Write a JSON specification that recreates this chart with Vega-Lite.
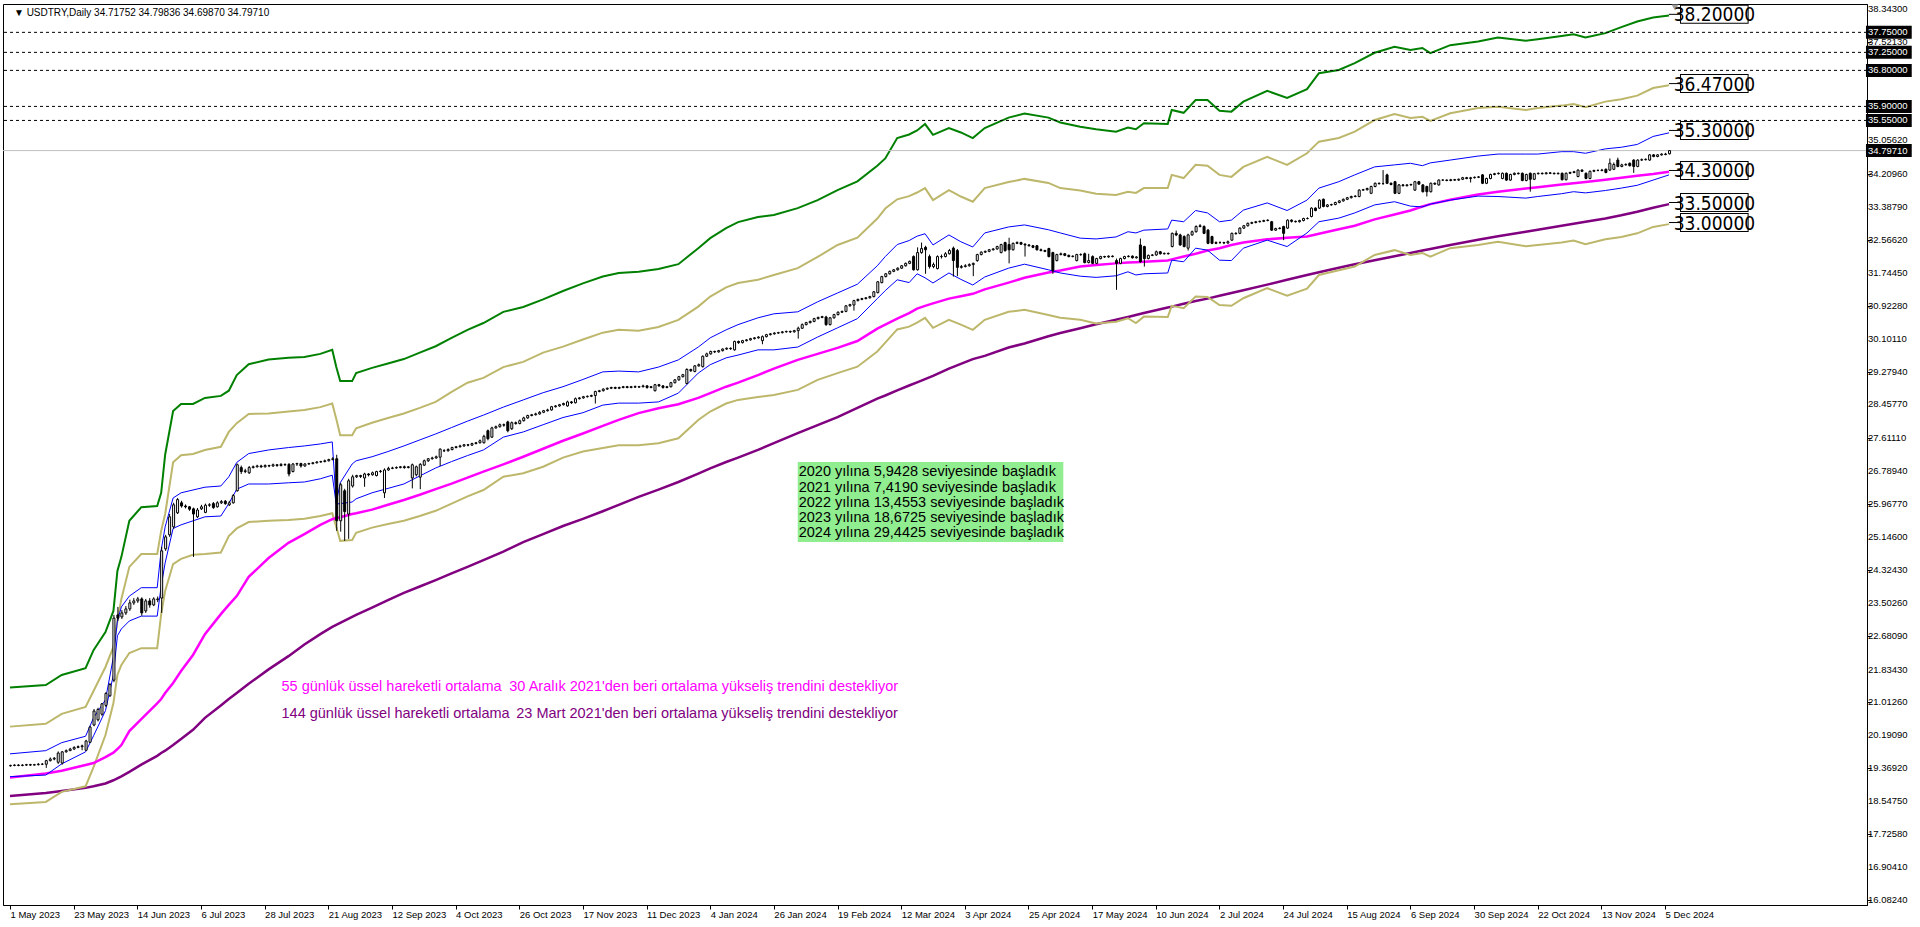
{
"$schema": "https://vega.github.io/schema/vega-lite/v6.json",
"autosize": "none",
"width": 1864,
"height": 901,
"padding": {"left": 3, "top": 4, "right": 53, "bottom": 22},
"background": "white",
"config": {"view": {"stroke": "black", "strokeWidth": 1}, "font": "Liberation Sans", "axis": {"grid": false, "labelOverlap": false}},
"datasets": {
"one": [{}],
"yticks": [{"v":38.343},{"v":37.5213},{"v":36.6993},{"v":35.8779},{"v":35.0562},{"v":34.2096},{"v":33.3879},{"v":32.5662},{"v":31.7445},{"v":30.9228},{"v":30.1011},{"v":29.2794},{"v":28.4577},{"v":27.6111},{"v":26.7894},{"v":25.9677},{"v":25.146},{"v":24.3243},{"v":23.5026},{"v":22.6809},{"v":21.8343},{"v":21.0126},{"v":20.1909},{"v":19.3692},{"v":18.5475},{"v":17.7258},{"v":16.9041},{"v":16.0824}],
"bands": [
{"i":0,"g":21.39,"tu":20.41,"bu":19.73,"bl":19.16,"tl":18.47,"m":19.14,"p":18.68},
{"i":9,"g":21.45,"tu":20.48,"bu":19.81,"bl":19.20,"tl":18.53,"m":19.24,"p":18.75},
{"i":13,"g":21.70,"tu":20.73,"bu":20.01,"bl":19.48,"tl":18.78,"m":19.31,"p":18.80},
{"i":19,"g":21.87,"tu":20.90,"bu":20.17,"bl":19.78,"tl":18.92,"m":19.45,"p":18.88},
{"i":21,"g":22.32,"tu":21.30,"bu":20.63,"bl":20.18,"tl":19.40,"m":19.50,"p":18.92},
{"i":24,"g":22.77,"tu":21.90,"bu":21.08,"bl":20.81,"tl":20.20,"m":19.65,"p":18.99},
{"i":26,"g":23.30,"tu":22.40,"bu":22.15,"bl":21.70,"tl":21.00,"m":19.76,"p":19.07},
{"i":27,"g":24.30,"tu":23.05,"bu":23.05,"bl":22.68,"tl":21.70,"m":19.85,"p":19.12},
{"i":28,"g":24.65,"tu":23.60,"bu":23.40,"bl":22.85,"tl":21.95,"m":19.95,"p":19.17},
{"i":30,"g":25.55,"tu":24.40,"bu":23.67,"bl":23.05,"tl":22.25,"m":20.30,"p":19.28},
{"i":33,"g":25.89,"tu":24.72,"bu":23.88,"bl":23.17,"tl":22.37,"m":20.60,"p":19.46},
{"i":37,"g":25.92,"tu":24.72,"bu":23.88,"bl":23.17,"tl":22.37,"m":20.99,"p":19.68},
{"i":38,"g":26.25,"tu":25.30,"bu":24.82,"bl":23.92,"tl":23.22,"m":21.10,"p":19.75},
{"i":39,"g":27.20,"tu":25.72,"bu":25.40,"bl":24.50,"tl":23.80,"m":21.25,"p":19.81},
{"i":41,"g":28.29,"tu":27.01,"bu":26.12,"bl":25.36,"tl":24.47,"m":21.50,"p":19.95},
{"i":43,"g":28.47,"tu":27.19,"bu":26.25,"bl":25.45,"tl":24.60,"m":21.80,"p":20.10},
{"i":46,"g":28.47,"tu":27.22,"bu":26.32,"bl":25.55,"tl":24.70,"m":22.20,"p":20.33},
{"i":49,"g":28.62,"tu":27.32,"bu":26.39,"bl":25.65,"tl":24.72,"m":22.72,"p":20.63},
{"i":53,"g":28.67,"tu":27.40,"bu":26.42,"bl":25.67,"tl":24.76,"m":23.22,"p":20.94},
{"i":55,"g":28.80,"tu":27.77,"bu":26.65,"bl":25.98,"tl":25.17,"m":23.45,"p":21.10},
{"i":57,"g":29.19,"tu":27.99,"bu":27.01,"bl":26.34,"tl":25.36,"m":23.67,"p":21.25},
{"i":60,"g":29.46,"tu":28.22,"bu":27.23,"bl":26.47,"tl":25.52,"m":24.15,"p":21.48},
{"i":65,"g":29.58,"tu":28.23,"bu":27.32,"bl":26.47,"tl":25.55,"m":24.62,"p":21.84},
{"i":70,"g":29.62,"tu":28.28,"bu":27.38,"bl":26.50,"tl":25.57,"m":25.00,"p":22.17},
{"i":74,"g":29.64,"tu":28.32,"bu":27.42,"bl":26.52,"tl":25.60,"m":25.22,"p":22.46},
{"i":78,"g":29.72,"tu":28.39,"bu":27.47,"bl":26.60,"tl":25.67,"m":25.45,"p":22.72},
{"i":81,"g":29.82,"tu":28.48,"bu":27.52,"bl":26.69,"tl":25.74,"m":25.59,"p":22.90},
{"i":82,"g":29.40,"tu":28.10,"bu":26.00,"bl":25.97,"tl":25.40,"m":25.62,"p":22.95},
{"i":83,"g":29.04,"tu":27.69,"bu":26.50,"bl":25.98,"tl":25.05,"m":25.64,"p":23.00},
{"i":86,"g":29.04,"tu":27.69,"bu":26.97,"bl":26.02,"tl":25.07,"m":25.72,"p":23.15},
{"i":87,"g":29.24,"tu":27.86,"bu":27.05,"bl":26.10,"tl":25.25,"m":25.74,"p":23.20},
{"i":91,"g":29.37,"tu":28.00,"bu":27.15,"bl":26.25,"tl":25.38,"m":25.83,"p":23.38},
{"i":95,"g":29.48,"tu":28.12,"bu":27.28,"bl":26.36,"tl":25.47,"m":25.95,"p":23.57},
{"i":99,"g":29.59,"tu":28.23,"bu":27.42,"bl":26.47,"tl":25.55,"m":26.07,"p":23.75},
{"i":103,"g":29.75,"tu":28.37,"bu":27.57,"bl":26.67,"tl":25.67,"m":26.20,"p":23.91},
{"i":107,"g":29.91,"tu":28.52,"bu":27.72,"bl":26.87,"tl":25.80,"m":26.34,"p":24.07},
{"i":111,"g":30.12,"tu":28.77,"bu":27.88,"bl":27.03,"tl":25.98,"m":26.48,"p":24.24},
{"i":115,"g":30.32,"tu":29.00,"bu":28.04,"bl":27.18,"tl":26.16,"m":26.63,"p":24.40},
{"i":119,"g":30.49,"tu":29.12,"bu":28.19,"bl":27.32,"tl":26.32,"m":26.78,"p":24.57},
{"i":124,"g":30.77,"tu":29.39,"bu":28.39,"bl":27.64,"tl":26.65,"m":26.96,"p":24.78},
{"i":129,"g":30.89,"tu":29.52,"bu":28.57,"bl":27.77,"tl":26.74,"m":27.15,"p":25.02},
{"i":134,"g":31.08,"tu":29.75,"bu":28.75,"bl":27.95,"tl":26.90,"m":27.35,"p":25.22},
{"i":139,"g":31.29,"tu":29.90,"bu":28.90,"bl":28.13,"tl":27.13,"m":27.55,"p":25.42},
{"i":144,"g":31.48,"tu":30.08,"bu":29.08,"bl":28.25,"tl":27.28,"m":27.73,"p":25.60},
{"i":149,"g":31.65,"tu":30.25,"bu":29.27,"bl":28.44,"tl":27.37,"m":27.92,"p":25.79},
{"i":153,"g":31.74,"tu":30.32,"bu":29.29,"bl":28.49,"tl":27.44,"m":28.07,"p":25.95},
{"i":158,"g":31.77,"tu":30.30,"bu":29.27,"bl":28.49,"tl":27.44,"m":28.24,"p":26.15},
{"i":163,"g":31.84,"tu":30.39,"bu":29.39,"bl":28.52,"tl":27.49,"m":28.36,"p":26.33},
{"i":168,"g":31.96,"tu":30.57,"bu":29.57,"bl":28.74,"tl":27.61,"m":28.46,"p":26.52},
{"i":173,"g":32.36,"tu":30.90,"bu":29.89,"bl":29.24,"tl":28.07,"m":28.62,"p":26.73},
{"i":176,"g":32.61,"tu":31.15,"bu":30.12,"bl":29.45,"tl":28.28,"m":28.74,"p":26.86},
{"i":180,"g":32.86,"tu":31.38,"bu":30.32,"bl":29.62,"tl":28.48,"m":28.90,"p":27.02},
{"i":183,"g":33.01,"tu":31.49,"bu":30.45,"bl":29.69,"tl":28.57,"m":29.00,"p":27.13},
{"i":188,"g":33.14,"tu":31.57,"bu":30.62,"bl":29.82,"tl":28.64,"m":29.19,"p":27.32},
{"i":192,"g":33.19,"tu":31.69,"bu":30.72,"bl":29.82,"tl":28.69,"m":29.35,"p":27.49},
{"i":198,"g":33.36,"tu":31.86,"bu":30.77,"bl":29.89,"tl":28.82,"m":29.57,"p":27.74},
{"i":203,"g":33.56,"tu":32.14,"bu":31.02,"bl":30.14,"tl":29.07,"m":29.72,"p":27.94},
{"i":208,"g":33.81,"tu":32.44,"bu":31.24,"bl":30.37,"tl":29.24,"m":29.87,"p":28.14},
{"i":213,"g":34.03,"tu":32.62,"bu":31.46,"bl":30.60,"tl":29.40,"m":30.04,"p":28.37},
{"i":218,"g":34.42,"tu":33.10,"bu":31.92,"bl":31.10,"tl":29.78,"m":30.35,"p":28.60},
{"i":220,"g":34.60,"tu":33.35,"bu":32.15,"bl":31.30,"tl":30.00,"m":30.45,"p":28.68},
{"i":223,"g":35.11,"tu":33.58,"bu":32.45,"bl":31.57,"tl":30.33,"m":30.60,"p":28.81},
{"i":226,"g":35.20,"tu":33.66,"bu":32.55,"bl":31.50,"tl":30.40,"m":30.74,"p":28.93},
{"i":228,"g":35.30,"tu":33.75,"bu":32.66,"bl":31.72,"tl":30.50,"m":30.85,"p":29.01},
{"i":230,"g":35.46,"tu":33.86,"bu":32.72,"bl":31.62,"tl":30.62,"m":30.92,"p":29.09},
{"i":232,"g":35.19,"tu":33.56,"bu":32.44,"bl":31.49,"tl":30.37,"m":30.98,"p":29.17},
{"i":236,"g":35.36,"tu":33.81,"bu":32.69,"bl":31.74,"tl":30.57,"m":31.10,"p":29.35},
{"i":239,"g":35.25,"tu":33.65,"bu":32.52,"bl":31.58,"tl":30.45,"m":31.16,"p":29.47},
{"i":242,"g":35.11,"tu":33.52,"bu":32.39,"bl":31.44,"tl":30.32,"m":31.22,"p":29.59},
{"i":245,"g":35.36,"tu":33.86,"bu":32.74,"bl":31.64,"tl":30.57,"m":31.33,"p":29.67},
{"i":251,"g":35.62,"tu":34.01,"bu":32.89,"bl":31.86,"tl":30.77,"m":31.50,"p":29.88},
{"i":255,"g":35.72,"tu":34.09,"bu":32.94,"bl":31.96,"tl":30.82,"m":31.62,"p":29.98},
{"i":261,"g":35.62,"tu":33.99,"bu":32.82,"bl":31.82,"tl":30.69,"m":31.75,"p":30.16},
{"i":264,"g":35.50,"tu":33.86,"bu":32.74,"bl":31.74,"tl":30.62,"m":31.80,"p":30.24},
{"i":269,"g":35.39,"tu":33.80,"bu":32.61,"bl":31.66,"tl":30.57,"m":31.90,"p":30.36},
{"i":273,"g":35.33,"tu":33.72,"bu":32.59,"bl":31.63,"tl":30.48,"m":31.94,"p":30.46},
{"i":278,"g":35.27,"tu":33.69,"bu":32.64,"bl":31.67,"tl":30.52,"m":31.98,"p":30.57},
{"i":281,"g":35.37,"tu":33.77,"bu":32.77,"bl":31.77,"tl":30.61,"m":32.00,"p":30.64},
{"i":283,"g":35.33,"tu":33.74,"bu":32.74,"bl":31.69,"tl":30.49,"m":32.01,"p":30.69},
{"i":285,"g":35.48,"tu":33.86,"bu":32.81,"bl":31.72,"tl":30.65,"m":32.02,"p":30.74},
{"i":291,"g":35.46,"tu":33.86,"bu":32.84,"bl":31.74,"tl":30.64,"m":32.05,"p":30.88},
{"i":292,"g":35.81,"tu":34.19,"bu":33.06,"bl":32.06,"tl":30.92,"m":32.08,"p":30.90},
{"i":295,"g":35.74,"tu":34.11,"bu":33.02,"bl":32.02,"tl":30.86,"m":32.15,"p":30.97},
{"i":298,"g":36.06,"tu":34.44,"bu":33.30,"bl":32.36,"tl":31.15,"m":32.22,"p":31.04},
{"i":301,"g":36.06,"tu":34.42,"bu":33.24,"bl":32.31,"tl":31.14,"m":32.30,"p":31.10},
{"i":304,"g":35.79,"tu":34.19,"bu":33.02,"bl":32.06,"tl":30.94,"m":32.36,"p":31.17},
{"i":307,"g":35.77,"tu":34.14,"bu":33.06,"bl":32.05,"tl":30.92,"m":32.44,"p":31.24},
{"i":310,"g":36.02,"tu":34.39,"bu":33.31,"bl":32.36,"tl":31.11,"m":32.50,"p":31.31},
{"i":316,"g":36.29,"tu":34.64,"bu":33.49,"bl":32.56,"tl":31.36,"m":32.58,"p":31.45},
{"i":321,"g":36.11,"tu":34.44,"bu":33.30,"bl":32.40,"tl":31.17,"m":32.62,"p":31.57},
{"i":326,"g":36.33,"tu":34.73,"bu":33.56,"bl":32.74,"tl":31.35,"m":32.65,"p":31.69},
{"i":329,"g":36.73,"tu":35.02,"bu":33.86,"bl":33.02,"tl":31.69,"m":32.72,"p":31.76},
{"i":334,"g":36.81,"tu":35.11,"bu":34.02,"bl":33.11,"tl":31.81,"m":32.83,"p":31.87},
{"i":338,"g":36.98,"tu":35.27,"bu":34.19,"bl":33.24,"tl":31.90,"m":32.92,"p":31.96},
{"i":343,"g":37.24,"tu":35.56,"bu":34.39,"bl":33.44,"tl":32.19,"m":33.08,"p":32.06},
{"i":348,"g":37.39,"tu":35.71,"bu":34.44,"bl":33.52,"tl":32.31,"m":33.20,"p":32.16},
{"i":352,"g":37.31,"tu":35.61,"bu":34.48,"bl":33.41,"tl":32.19,"m":33.30,"p":32.24},
{"i":355,"g":37.36,"tu":35.64,"bu":34.42,"bl":33.39,"tl":32.24,"m":33.40,"p":32.30},
{"i":357,"g":37.23,"tu":35.54,"bu":34.49,"bl":33.46,"tl":32.15,"m":33.46,"p":32.34},
{"i":362,"g":37.43,"tu":35.73,"bu":34.56,"bl":33.56,"tl":32.36,"m":33.57,"p":32.44},
{"i":369,"g":37.52,"tu":35.86,"bu":34.66,"bl":33.66,"tl":32.44,"m":33.70,"p":32.57},
{"i":374,"g":37.62,"tu":35.89,"bu":34.71,"bl":33.65,"tl":32.52,"m":33.77,"p":32.66},
{"i":381,"g":37.54,"tu":35.81,"bu":34.71,"bl":33.61,"tl":32.41,"m":33.85,"p":32.77},
{"i":384,"g":37.58,"tu":35.86,"bu":34.71,"bl":33.65,"tl":32.44,"m":33.88,"p":32.82},
{"i":390,"g":37.66,"tu":35.92,"bu":34.77,"bl":33.72,"tl":32.50,"m":33.95,"p":32.92},
{"i":393,"g":37.70,"tu":35.96,"bu":34.77,"bl":33.77,"tl":32.55,"m":33.98,"p":32.97},
{"i":396,"g":37.62,"tu":35.88,"bu":34.73,"bl":33.74,"tl":32.46,"m":34.01,"p":33.02},
{"i":401,"g":37.73,"tu":36.02,"bu":34.84,"bl":33.80,"tl":32.58,"m":34.07,"p":33.10},
{"i":405,"g":37.88,"tu":36.08,"bu":34.88,"bl":33.86,"tl":32.64,"m":34.12,"p":33.18},
{"i":409,"g":38.02,"tu":36.17,"bu":34.95,"bl":33.93,"tl":32.73,"m":34.17,"p":33.27},
{"i":413,"g":38.12,"tu":36.36,"bu":35.15,"bl":34.06,"tl":32.89,"m":34.21,"p":33.37},
{"i":417,"g":38.17,"tu":36.43,"bu":35.24,"bl":34.19,"tl":32.96,"m":34.27,"p":33.46}
],
"candles": [
{"i":0,"o":19.43,"h":19.46,"l":19.41,"c":19.44},{"i":1,"o":19.44,"h":19.47,"l":19.42,"c":19.45},{"i":2,"o":19.45,"h":19.47,"l":19.42,"c":19.44},{"i":3,"o":19.44,"h":19.47,"l":19.42,"c":19.45},{"i":4,"o":19.45,"h":19.48,"l":19.43,"c":19.46},
{"i":5,"o":19.46,"h":19.48,"l":19.43,"c":19.45},{"i":6,"o":19.45,"h":19.48,"l":19.44,"c":19.46},{"i":7,"o":19.46,"h":19.5,"l":19.44,"c":19.47},{"i":8,"o":19.47,"h":19.5,"l":19.45,"c":19.47},{"i":9,"o":19.47,"h":19.58,"l":19.38,"c":19.56},
{"i":10,"o":19.56,"h":19.64,"l":19.54,"c":19.6},{"i":11,"o":19.6,"h":19.65,"l":19.57,"c":19.62},{"i":12,"o":19.52,"h":19.79,"l":19.48,"c":19.75},{"i":13,"o":19.5,"h":19.8,"l":19.46,"c":19.78},{"i":14,"o":19.78,"h":19.84,"l":19.76,"c":19.81},
{"i":15,"o":19.81,"h":19.88,"l":19.8,"c":19.85},{"i":16,"o":19.85,"h":19.92,"l":19.83,"c":19.89},{"i":17,"o":19.89,"h":19.94,"l":19.87,"c":19.91},{"i":18,"o":19.91,"h":19.96,"l":19.82,"c":19.93},{"i":19,"o":19.82,"h":20.08,"l":19.8,"c":20.05},
{"i":20,"o":20.02,"h":20.43,"l":20.0,"c":20.4},{"i":21,"o":20.45,"h":20.85,"l":20.42,"c":20.8},{"i":22,"o":20.58,"h":20.88,"l":20.54,"c":20.84},{"i":23,"o":20.72,"h":21.0,"l":20.68,"c":20.98},{"i":24,"o":20.94,"h":21.27,"l":20.9,"c":21.24},
{"i":25,"o":21.18,"h":21.5,"l":21.15,"c":21.46},{"i":26,"o":21.57,"h":23.2,"l":21.52,"c":23.12},{"i":27,"o":23.2,"h":23.4,"l":23.05,"c":23.12},{"i":28,"o":23.15,"h":23.32,"l":23.1,"c":23.25},{"i":29,"o":23.25,"h":23.42,"l":23.2,"c":23.35},
{"i":30,"o":23.35,"h":23.58,"l":23.3,"c":23.5},{"i":31,"o":23.5,"h":23.62,"l":23.45,"c":23.55},{"i":32,"o":23.55,"h":23.65,"l":23.5,"c":23.6},{"i":33,"o":23.6,"h":23.64,"l":23.18,"c":23.25},{"i":34,"o":23.3,"h":23.6,"l":23.25,"c":23.55},
{"i":35,"o":23.55,"h":23.62,"l":23.38,"c":23.45},{"i":36,"o":23.45,"h":23.64,"l":23.42,"c":23.6},{"i":37,"o":23.58,"h":23.66,"l":23.52,"c":23.6},{"i":38,"o":23.62,"h":24.9,"l":23.25,"c":24.8},{"i":39,"o":24.85,"h":25.2,"l":24.8,"c":25.15},
{"i":40,"o":25.2,"h":25.72,"l":25.15,"c":25.65},{"i":41,"o":25.4,"h":26.0,"l":25.35,"c":25.95},{"i":42,"o":25.75,"h":26.12,"l":25.72,"c":26.08},{"i":43,"o":26.0,"h":26.05,"l":25.88,"c":25.92},{"i":44,"o":25.92,"h":25.96,"l":25.86,"c":25.9},
{"i":45,"o":25.9,"h":25.92,"l":25.8,"c":25.84},{"i":46,"o":25.85,"h":25.88,"l":24.65,"c":25.72},{"i":47,"o":25.65,"h":25.87,"l":25.62,"c":25.82},{"i":48,"o":25.85,"h":25.95,"l":25.82,"c":25.9},{"i":49,"o":25.76,"h":25.98,"l":25.74,"c":25.94},
{"i":50,"o":25.94,"h":25.99,"l":25.9,"c":25.95},{"i":51,"o":25.98,"h":26.02,"l":25.85,"c":25.88},{"i":52,"o":25.9,"h":26.04,"l":25.88,"c":26.0},{"i":53,"o":26.0,"h":26.07,"l":25.97,"c":26.03},{"i":54,"o":26.04,"h":26.07,"l":25.95,"c":25.98},
{"i":55,"o":25.95,"h":26.05,"l":25.92,"c":26.0},{"i":56,"o":26.0,"h":26.22,"l":25.98,"c":26.18},{"i":57,"o":26.3,"h":26.98,"l":26.28,"c":26.95},{"i":58,"o":26.88,"h":26.93,"l":26.72,"c":26.78},{"i":59,"o":26.78,"h":26.85,"l":26.74,"c":26.8},
{"i":60,"o":26.75,"h":26.92,"l":26.72,"c":26.88},{"i":61,"o":26.88,"h":26.93,"l":26.86,"c":26.9},{"i":62,"o":26.9,"h":26.95,"l":26.88,"c":26.92},{"i":63,"o":26.92,"h":26.95,"l":26.87,"c":26.9},{"i":64,"o":26.9,"h":26.96,"l":26.88,"c":26.93},
{"i":65,"o":26.93,"h":26.95,"l":26.89,"c":26.92},{"i":66,"o":26.92,"h":26.98,"l":26.9,"c":26.95},{"i":67,"o":26.95,"h":26.97,"l":26.9,"c":26.93},{"i":68,"o":26.93,"h":26.99,"l":26.91,"c":26.96},{"i":69,"o":26.96,"h":26.98,"l":26.92,"c":26.95},
{"i":70,"o":26.96,"h":26.99,"l":26.66,"c":26.72},{"i":71,"o":26.78,"h":26.99,"l":26.76,"c":26.97},{"i":72,"o":26.97,"h":27.0,"l":26.92,"c":26.98},{"i":73,"o":26.98,"h":27.0,"l":26.88,"c":26.92},{"i":74,"o":26.92,"h":26.99,"l":26.9,"c":26.97},
{"i":75,"o":26.97,"h":27.0,"l":26.95,"c":26.98},{"i":76,"o":26.98,"h":27.02,"l":26.96,"c":27.0},{"i":77,"o":27.0,"h":27.04,"l":26.98,"c":27.02},{"i":78,"o":27.02,"h":27.05,"l":27.0,"c":27.03},{"i":79,"o":27.03,"h":27.08,"l":27.01,"c":27.05},
{"i":80,"o":27.05,"h":27.1,"l":27.03,"c":27.08},{"i":81,"o":27.08,"h":27.14,"l":27.06,"c":27.1},{"i":82,"o":27.1,"h":27.2,"l":25.3,"c":25.55},{"i":83,"o":25.55,"h":26.5,"l":25.28,"c":26.45},{"i":84,"o":26.3,"h":26.35,"l":25.05,"c":25.78},
{"i":85,"o":25.72,"h":26.6,"l":25.1,"c":26.55},{"i":86,"o":26.42,"h":26.7,"l":26.38,"c":26.65},{"i":87,"o":26.65,"h":26.7,"l":26.62,"c":26.68},{"i":88,"o":26.68,"h":26.7,"l":26.62,"c":26.66},{"i":89,"o":26.62,"h":26.75,"l":26.4,"c":26.72},
{"i":90,"o":26.72,"h":26.74,"l":26.66,"c":26.7},{"i":91,"o":26.7,"h":26.78,"l":26.68,"c":26.75},{"i":92,"o":26.68,"h":26.8,"l":26.66,"c":26.78},{"i":93,"o":26.78,"h":26.82,"l":26.75,"c":26.79},{"i":94,"o":26.25,"h":26.86,"l":26.12,"c":26.82},
{"i":95,"o":26.82,"h":26.9,"l":26.8,"c":26.86},{"i":96,"o":26.86,"h":26.9,"l":26.84,"c":26.87},{"i":97,"o":26.87,"h":26.91,"l":26.85,"c":26.88},{"i":98,"o":26.88,"h":26.92,"l":26.86,"c":26.9},{"i":99,"o":26.9,"h":26.93,"l":26.85,"c":26.88},
{"i":100,"o":26.88,"h":26.92,"l":26.86,"c":26.9},{"i":101,"o":26.62,"h":26.98,"l":26.36,"c":26.95},{"i":102,"o":26.7,"h":26.93,"l":26.66,"c":26.9},{"i":103,"o":26.64,"h":26.99,"l":26.34,"c":26.96},{"i":104,"o":26.94,"h":27.08,"l":26.92,"c":27.05},
{"i":105,"o":27.05,"h":27.12,"l":27.02,"c":27.1},{"i":106,"o":27.1,"h":27.15,"l":27.08,"c":27.12},{"i":107,"o":27.12,"h":27.18,"l":27.1,"c":27.15},{"i":108,"o":27.14,"h":27.36,"l":26.92,"c":27.34},{"i":109,"o":27.3,"h":27.34,"l":27.27,"c":27.3},
{"i":110,"o":27.3,"h":27.36,"l":27.28,"c":27.33},{"i":111,"o":27.33,"h":27.4,"l":27.31,"c":27.38},{"i":112,"o":27.38,"h":27.42,"l":27.36,"c":27.4},{"i":113,"o":27.4,"h":27.45,"l":27.38,"c":27.42},{"i":114,"o":27.42,"h":27.47,"l":27.4,"c":27.45},
{"i":115,"o":27.45,"h":27.47,"l":27.41,"c":27.44},{"i":116,"o":27.44,"h":27.5,"l":27.42,"c":27.48},{"i":117,"o":27.48,"h":27.52,"l":27.46,"c":27.5},{"i":118,"o":27.5,"h":27.58,"l":27.48,"c":27.55},{"i":119,"o":27.5,"h":27.7,"l":27.48,"c":27.66},
{"i":120,"o":27.8,"h":27.83,"l":27.56,"c":27.6},{"i":121,"o":27.64,"h":27.9,"l":27.62,"c":27.87},{"i":122,"o":27.87,"h":27.93,"l":27.85,"c":27.9},{"i":123,"o":27.9,"h":27.98,"l":27.88,"c":27.95},{"i":124,"o":27.95,"h":27.98,"l":27.9,"c":27.94},
{"i":125,"o":28.02,"h":28.05,"l":27.76,"c":27.8},{"i":126,"o":27.85,"h":28.03,"l":27.82,"c":28.0},{"i":127,"o":28.0,"h":28.03,"l":27.95,"c":27.98},{"i":128,"o":27.98,"h":28.08,"l":27.96,"c":28.05},{"i":129,"o":28.05,"h":28.15,"l":28.03,"c":28.12},
{"i":130,"o":28.12,"h":28.2,"l":28.1,"c":28.18},{"i":131,"o":28.18,"h":28.22,"l":28.16,"c":28.2},{"i":132,"o":28.2,"h":28.25,"l":28.18,"c":28.22},{"i":133,"o":28.22,"h":28.29,"l":28.2,"c":28.26},{"i":134,"o":28.26,"h":28.32,"l":28.24,"c":28.3},
{"i":135,"o":28.3,"h":28.35,"l":28.28,"c":28.32},{"i":136,"o":28.32,"h":28.42,"l":28.3,"c":28.4},{"i":137,"o":28.4,"h":28.44,"l":28.38,"c":28.42},{"i":138,"o":28.42,"h":28.47,"l":28.4,"c":28.45},{"i":139,"o":28.45,"h":28.5,"l":28.43,"c":28.48},
{"i":140,"o":28.42,"h":28.55,"l":28.4,"c":28.52},{"i":141,"o":28.52,"h":28.54,"l":28.47,"c":28.5},{"i":142,"o":28.5,"h":28.63,"l":28.48,"c":28.6},{"i":143,"o":28.6,"h":28.64,"l":28.58,"c":28.62},{"i":144,"o":28.62,"h":28.67,"l":28.6,"c":28.65},
{"i":145,"o":28.65,"h":28.68,"l":28.63,"c":28.66},{"i":146,"o":28.66,"h":28.7,"l":28.64,"c":28.68},{"i":147,"o":28.68,"h":28.8,"l":28.48,"c":28.78},{"i":148,"o":28.78,"h":28.82,"l":28.76,"c":28.8},{"i":149,"o":28.8,"h":28.86,"l":28.78,"c":28.84},
{"i":150,"o":28.84,"h":28.88,"l":28.82,"c":28.86},{"i":151,"o":28.86,"h":28.9,"l":28.84,"c":28.88},{"i":152,"o":28.88,"h":28.9,"l":28.84,"c":28.86},{"i":153,"o":28.86,"h":28.9,"l":28.84,"c":28.88},{"i":154,"o":28.88,"h":28.92,"l":28.86,"c":28.9},
{"i":155,"o":28.9,"h":28.92,"l":28.86,"c":28.88},{"i":156,"o":28.88,"h":28.92,"l":28.86,"c":28.9},{"i":157,"o":28.9,"h":28.93,"l":28.87,"c":28.89},{"i":158,"o":28.89,"h":28.92,"l":28.87,"c":28.9},{"i":159,"o":28.9,"h":28.95,"l":28.88,"c":28.92},
{"i":160,"o":28.92,"h":28.94,"l":28.85,"c":28.88},{"i":161,"o":28.88,"h":28.92,"l":28.86,"c":28.9},{"i":162,"o":28.8,"h":28.97,"l":28.78,"c":28.95},{"i":163,"o":28.95,"h":28.97,"l":28.9,"c":28.92},{"i":164,"o":28.92,"h":28.94,"l":28.85,"c":28.88},
{"i":165,"o":28.88,"h":28.92,"l":28.86,"c":28.9},{"i":166,"o":28.9,"h":29.02,"l":28.88,"c":29.0},{"i":167,"o":29.0,"h":29.09,"l":28.98,"c":29.07},{"i":168,"o":29.07,"h":29.17,"l":29.05,"c":29.15},{"i":169,"o":29.15,"h":29.22,"l":29.13,"c":29.2},
{"i":170,"o":28.98,"h":29.36,"l":28.96,"c":29.33},{"i":171,"o":29.33,"h":29.35,"l":29.27,"c":29.3},{"i":172,"o":29.28,"h":29.44,"l":29.26,"c":29.42},{"i":173,"o":29.42,"h":29.48,"l":29.4,"c":29.45},{"i":174,"o":29.4,"h":29.68,"l":29.38,"c":29.66},
{"i":175,"o":29.66,"h":29.75,"l":29.64,"c":29.72},{"i":176,"o":29.72,"h":29.8,"l":29.7,"c":29.78},{"i":177,"o":29.78,"h":29.8,"l":29.74,"c":29.77},{"i":178,"o":29.77,"h":29.82,"l":29.75,"c":29.8},{"i":179,"o":29.8,"h":29.86,"l":29.78,"c":29.84},
{"i":180,"o":29.84,"h":29.88,"l":29.82,"c":29.86},{"i":181,"o":29.86,"h":29.88,"l":29.82,"c":29.85},{"i":182,"o":29.82,"h":30.05,"l":29.8,"c":30.03},{"i":183,"o":30.03,"h":30.05,"l":29.97,"c":30.0},{"i":184,"o":30.0,"h":30.07,"l":29.98,"c":30.05},
{"i":185,"o":30.05,"h":30.09,"l":30.03,"c":30.07},{"i":186,"o":30.07,"h":30.12,"l":30.05,"c":30.1},{"i":187,"o":30.1,"h":30.14,"l":30.08,"c":30.12},{"i":188,"o":30.12,"h":30.16,"l":30.1,"c":30.14},{"i":189,"o":30.05,"h":30.18,"l":29.96,"c":30.15},
{"i":190,"o":30.15,"h":30.22,"l":30.13,"c":30.2},{"i":191,"o":30.2,"h":30.24,"l":30.18,"c":30.22},{"i":192,"o":30.22,"h":30.26,"l":30.2,"c":30.24},{"i":193,"o":30.24,"h":30.27,"l":30.22,"c":30.25},{"i":194,"o":30.25,"h":30.29,"l":30.23,"c":30.27},
{"i":195,"o":30.27,"h":30.3,"l":30.25,"c":30.28},{"i":196,"o":30.28,"h":30.3,"l":30.24,"c":30.27},{"i":197,"o":30.27,"h":30.32,"l":30.25,"c":30.3},{"i":198,"o":30.3,"h":30.4,"l":30.1,"c":30.36},{"i":199,"o":30.36,"h":30.48,"l":30.34,"c":30.45},
{"i":200,"o":30.45,"h":30.52,"l":30.43,"c":30.5},{"i":201,"o":30.5,"h":30.55,"l":30.48,"c":30.53},{"i":202,"o":30.53,"h":30.62,"l":30.51,"c":30.6},{"i":203,"o":30.6,"h":30.65,"l":30.58,"c":30.63},{"i":204,"o":30.63,"h":30.67,"l":30.61,"c":30.65},
{"i":205,"o":30.64,"h":30.67,"l":30.42,"c":30.45},{"i":206,"o":30.45,"h":30.64,"l":30.43,"c":30.62},{"i":207,"o":30.62,"h":30.72,"l":30.6,"c":30.7},{"i":208,"o":30.7,"h":30.78,"l":30.68,"c":30.76},{"i":209,"o":30.76,"h":30.8,"l":30.74,"c":30.78},
{"i":210,"o":30.78,"h":30.94,"l":30.76,"c":30.92},{"i":211,"o":30.92,"h":30.97,"l":30.9,"c":30.95},{"i":212,"o":30.94,"h":31.07,"l":30.8,"c":31.05},{"i":213,"o":31.05,"h":31.1,"l":31.03,"c":31.08},{"i":214,"o":31.08,"h":31.12,"l":31.06,"c":31.1},
{"i":215,"o":31.1,"h":31.14,"l":31.08,"c":31.12},{"i":216,"o":31.12,"h":31.17,"l":31.1,"c":31.15},{"i":217,"o":31.15,"h":31.29,"l":31.13,"c":31.27},{"i":218,"o":31.25,"h":31.54,"l":31.23,"c":31.52},{"i":219,"o":31.5,"h":31.67,"l":31.48,"c":31.65},
{"i":220,"o":31.65,"h":31.74,"l":31.63,"c":31.72},{"i":221,"o":31.72,"h":31.8,"l":31.7,"c":31.78},{"i":222,"o":31.78,"h":31.84,"l":31.76,"c":31.82},{"i":223,"o":31.82,"h":31.88,"l":31.8,"c":31.86},{"i":224,"o":31.86,"h":31.94,"l":31.84,"c":31.92},
{"i":225,"o":31.92,"h":32.0,"l":31.9,"c":31.98},{"i":226,"o":31.98,"h":32.05,"l":31.96,"c":32.03},{"i":227,"o":32.15,"h":32.18,"l":31.8,"c":31.82},{"i":228,"o":31.82,"h":32.38,"l":31.8,"c":32.25},{"i":229,"o":32.25,"h":32.5,"l":32.22,"c":32.35},
{"i":230,"o":32.38,"h":32.42,"l":31.72,"c":32.32},{"i":231,"o":32.15,"h":32.2,"l":31.85,"c":31.9},{"i":232,"o":31.9,"h":32.0,"l":31.86,"c":31.95},{"i":233,"o":31.85,"h":32.18,"l":31.83,"c":32.15},{"i":234,"o":32.15,"h":32.2,"l":32.1,"c":32.15},
{"i":235,"o":32.15,"h":32.26,"l":32.13,"c":32.22},{"i":236,"o":32.22,"h":32.34,"l":32.2,"c":32.3},{"i":237,"o":32.36,"h":32.4,"l":31.65,"c":32.05},{"i":238,"o":32.3,"h":32.34,"l":31.66,"c":31.88},{"i":239,"o":31.88,"h":31.94,"l":31.85,"c":31.9},
{"i":240,"o":31.9,"h":31.96,"l":31.88,"c":31.92},{"i":241,"o":31.92,"h":31.98,"l":31.9,"c":31.95},{"i":242,"o":31.95,"h":32.0,"l":31.66,"c":31.98},{"i":243,"o":32.05,"h":32.22,"l":32.02,"c":32.2},{"i":244,"o":32.2,"h":32.28,"l":32.18,"c":32.26},
{"i":245,"o":32.26,"h":32.3,"l":32.24,"c":32.28},{"i":246,"o":32.28,"h":32.34,"l":32.26,"c":32.32},{"i":247,"o":32.32,"h":32.36,"l":32.3,"c":32.34},{"i":248,"o":32.34,"h":32.42,"l":32.32,"c":32.4},{"i":249,"o":32.25,"h":32.47,"l":32.23,"c":32.45},
{"i":250,"o":32.5,"h":32.52,"l":32.27,"c":32.3},{"i":251,"o":32.45,"h":32.62,"l":31.98,"c":32.32},{"i":252,"o":32.32,"h":32.5,"l":32.3,"c":32.48},{"i":253,"o":32.48,"h":32.53,"l":32.46,"c":32.5},{"i":254,"o":32.5,"h":32.52,"l":32.44,"c":32.46},
{"i":255,"o":32.46,"h":32.48,"l":32.15,"c":32.44},{"i":256,"o":32.44,"h":32.46,"l":32.4,"c":32.42},{"i":257,"o":32.42,"h":32.44,"l":32.36,"c":32.38},{"i":258,"o":32.42,"h":32.44,"l":32.3,"c":32.32},{"i":259,"o":32.32,"h":32.35,"l":32.28,"c":32.3},
{"i":260,"o":32.3,"h":32.32,"l":32.26,"c":32.28},{"i":261,"o":32.35,"h":32.37,"l":32.13,"c":32.15},{"i":262,"o":32.25,"h":32.27,"l":31.72,"c":31.8},{"i":263,"o":32.05,"h":32.22,"l":32.03,"c":32.2},{"i":264,"o":32.2,"h":32.25,"l":32.18,"c":32.22},
{"i":265,"o":32.22,"h":32.24,"l":32.16,"c":32.18},{"i":266,"o":32.18,"h":32.2,"l":32.13,"c":32.15},{"i":267,"o":32.15,"h":32.18,"l":32.13,"c":32.16},{"i":268,"o":32.05,"h":32.22,"l":32.03,"c":32.2},{"i":269,"o":32.2,"h":32.23,"l":32.17,"c":32.2},
{"i":270,"o":32.22,"h":32.25,"l":31.98,"c":32.0},{"i":271,"o":32.0,"h":32.22,"l":31.98,"c":32.05},{"i":272,"o":32.15,"h":32.18,"l":31.96,"c":31.98},{"i":273,"o":31.98,"h":32.12,"l":31.96,"c":32.1},{"i":274,"o":32.1,"h":32.17,"l":32.08,"c":32.15},
{"i":275,"o":32.15,"h":32.17,"l":32.12,"c":32.14},{"i":276,"o":32.14,"h":32.18,"l":32.12,"c":32.16},{"i":277,"o":32.16,"h":32.18,"l":32.13,"c":32.15},{"i":278,"o":32.05,"h":32.1,"l":31.32,"c":31.98},{"i":279,"o":31.98,"h":32.12,"l":31.96,"c":32.1},
{"i":280,"o":32.1,"h":32.17,"l":32.08,"c":32.15},{"i":281,"o":32.15,"h":32.18,"l":32.13,"c":32.16},{"i":282,"o":32.16,"h":32.18,"l":32.1,"c":32.12},{"i":283,"o":32.12,"h":32.16,"l":32.1,"c":32.14},{"i":284,"o":32.44,"h":32.6,"l":32.0,"c":32.02},
{"i":285,"o":32.4,"h":32.42,"l":31.9,"c":32.1},{"i":286,"o":32.1,"h":32.2,"l":32.08,"c":32.18},{"i":287,"o":32.18,"h":32.21,"l":32.16,"c":32.19},{"i":288,"o":32.19,"h":32.3,"l":32.17,"c":32.27},{"i":289,"o":32.27,"h":32.29,"l":32.2,"c":32.22},
{"i":290,"o":32.22,"h":32.25,"l":32.2,"c":32.23},{"i":291,"o":32.23,"h":32.25,"l":32.2,"c":32.22},{"i":292,"o":32.4,"h":32.75,"l":32.38,"c":32.73},{"i":293,"o":32.73,"h":32.8,"l":32.66,"c":32.69},{"i":294,"o":32.69,"h":32.72,"l":32.42,"c":32.44},
{"i":295,"o":32.65,"h":32.68,"l":32.38,"c":32.4},{"i":296,"o":32.36,"h":32.72,"l":32.3,"c":32.69},{"i":297,"o":32.69,"h":32.8,"l":32.67,"c":32.77},{"i":298,"o":32.77,"h":32.93,"l":32.75,"c":32.9},{"i":299,"o":32.9,"h":32.96,"l":32.88,"c":32.92},
{"i":300,"o":32.9,"h":32.93,"l":32.71,"c":32.73},{"i":301,"o":32.81,"h":32.84,"l":32.46,"c":32.48},{"i":302,"o":32.65,"h":32.67,"l":32.46,"c":32.48},{"i":303,"o":32.48,"h":32.53,"l":32.46,"c":32.5},{"i":304,"o":32.5,"h":32.53,"l":32.47,"c":32.5},
{"i":305,"o":32.5,"h":32.52,"l":32.46,"c":32.49},{"i":306,"o":32.49,"h":32.55,"l":32.47,"c":32.52},{"i":307,"o":32.56,"h":32.75,"l":32.54,"c":32.73},{"i":308,"o":32.73,"h":32.76,"l":32.7,"c":32.72},{"i":309,"o":32.73,"h":32.88,"l":32.71,"c":32.86},
{"i":310,"o":32.86,"h":32.94,"l":32.84,"c":32.92},{"i":311,"o":32.92,"h":33.0,"l":32.9,"c":32.98},{"i":312,"o":32.98,"h":33.02,"l":32.96,"c":33.0},{"i":313,"o":33.0,"h":33.04,"l":32.98,"c":33.02},{"i":314,"o":33.02,"h":33.05,"l":33.0,"c":33.03},
{"i":315,"o":33.03,"h":33.07,"l":33.01,"c":33.05},{"i":316,"o":33.05,"h":33.08,"l":33.03,"c":33.06},{"i":317,"o":33.02,"h":33.04,"l":32.79,"c":32.81},{"i":318,"o":32.81,"h":32.87,"l":32.79,"c":32.85},{"i":319,"o":32.85,"h":32.88,"l":32.83,"c":32.86},
{"i":320,"o":32.9,"h":32.92,"l":32.56,"c":32.73},{"i":321,"o":32.86,"h":33.08,"l":32.84,"c":33.06},{"i":322,"o":33.06,"h":33.08,"l":33.0,"c":33.03},{"i":323,"o":33.03,"h":33.05,"l":33.0,"c":33.02},{"i":324,"o":33.02,"h":33.07,"l":33.0,"c":33.05},
{"i":325,"o":33.05,"h":33.12,"l":33.03,"c":33.1},{"i":326,"o":33.1,"h":33.13,"l":33.08,"c":33.1},{"i":327,"o":33.15,"h":33.38,"l":33.13,"c":33.36},{"i":328,"o":33.36,"h":33.38,"l":33.28,"c":33.3},{"i":329,"o":33.36,"h":33.58,"l":33.34,"c":33.56},
{"i":330,"o":33.58,"h":33.6,"l":33.38,"c":33.4},{"i":331,"o":33.4,"h":33.46,"l":33.38,"c":33.44},{"i":332,"o":33.44,"h":33.47,"l":33.42,"c":33.45},{"i":333,"o":33.45,"h":33.52,"l":33.43,"c":33.5},{"i":334,"o":33.5,"h":33.56,"l":33.48,"c":33.54},
{"i":335,"o":33.54,"h":33.6,"l":33.52,"c":33.58},{"i":336,"o":33.58,"h":33.64,"l":33.56,"c":33.62},{"i":337,"o":33.62,"h":33.67,"l":33.6,"c":33.65},{"i":338,"o":33.65,"h":33.68,"l":33.63,"c":33.66},{"i":339,"o":33.65,"h":33.83,"l":33.63,"c":33.81},
{"i":340,"o":33.81,"h":33.84,"l":33.79,"c":33.82},{"i":341,"o":33.82,"h":33.87,"l":33.8,"c":33.85},{"i":342,"o":33.73,"h":33.92,"l":33.71,"c":33.9},{"i":343,"o":33.9,"h":34.0,"l":33.88,"c":33.98},{"i":344,"o":33.98,"h":34.0,"l":33.95,"c":33.97},
{"i":345,"o":33.97,"h":34.31,"l":33.95,"c":33.97},{"i":346,"o":34.19,"h":34.22,"l":33.96,"c":33.98},{"i":347,"o":33.98,"h":34.0,"l":33.93,"c":33.95},{"i":348,"o":34.02,"h":34.04,"l":33.71,"c":33.73},{"i":349,"o":33.73,"h":33.96,"l":33.71,"c":33.94},
{"i":350,"o":33.94,"h":33.96,"l":33.9,"c":33.92},{"i":351,"o":33.92,"h":33.96,"l":33.9,"c":33.94},{"i":352,"o":33.94,"h":33.97,"l":33.92,"c":33.95},{"i":353,"o":33.81,"h":34.04,"l":33.79,"c":34.02},{"i":354,"o":34.02,"h":34.04,"l":33.94,"c":33.96},
{"i":355,"o":33.94,"h":33.96,"l":33.75,"c":33.77},{"i":356,"o":33.9,"h":33.92,"l":33.65,"c":33.77},{"i":357,"o":33.77,"h":34.0,"l":33.75,"c":33.98},{"i":358,"o":33.98,"h":34.0,"l":33.94,"c":33.96},{"i":359,"o":33.94,"h":34.08,"l":33.92,"c":34.06},
{"i":360,"o":34.06,"h":34.08,"l":34.04,"c":34.06},{"i":361,"o":34.06,"h":34.08,"l":34.03,"c":34.05},{"i":362,"o":34.05,"h":34.09,"l":34.03,"c":34.07},{"i":363,"o":34.07,"h":34.09,"l":34.04,"c":34.06},{"i":364,"o":34.06,"h":34.1,"l":34.04,"c":34.08},
{"i":365,"o":34.08,"h":34.14,"l":34.06,"c":34.12},{"i":366,"o":34.12,"h":34.14,"l":34.08,"c":34.1},{"i":367,"o":34.1,"h":34.14,"l":34.0,"c":34.12},{"i":368,"o":34.12,"h":34.15,"l":34.1,"c":34.13},{"i":369,"o":34.13,"h":34.16,"l":34.11,"c":34.14},
{"i":370,"o":34.19,"h":34.21,"l":33.96,"c":33.98},{"i":371,"o":33.98,"h":34.12,"l":33.96,"c":34.1},{"i":372,"o":34.1,"h":34.22,"l":34.08,"c":34.2},{"i":373,"o":34.2,"h":34.24,"l":34.18,"c":34.22},{"i":374,"o":34.22,"h":34.25,"l":34.2,"c":34.23},
{"i":375,"o":34.1,"h":34.25,"l":34.08,"c":34.23},{"i":376,"o":34.23,"h":34.25,"l":34.04,"c":34.06},{"i":377,"o":34.06,"h":34.22,"l":34.04,"c":34.2},{"i":378,"o":34.2,"h":34.25,"l":34.18,"c":34.23},{"i":379,"o":34.23,"h":34.25,"l":34.2,"c":34.22},
{"i":380,"o":34.23,"h":34.25,"l":34.03,"c":34.05},{"i":381,"o":34.05,"h":34.22,"l":34.03,"c":34.2},{"i":382,"o":34.23,"h":34.25,"l":33.77,"c":34.08},{"i":383,"o":34.08,"h":34.24,"l":34.06,"c":34.22},{"i":384,"o":34.22,"h":34.25,"l":34.2,"c":34.23},
{"i":385,"o":34.23,"h":34.25,"l":34.2,"c":34.22},{"i":386,"o":34.22,"h":34.26,"l":34.2,"c":34.24},{"i":387,"o":34.24,"h":34.26,"l":34.21,"c":34.23},{"i":388,"o":34.23,"h":34.25,"l":34.2,"c":34.22},{"i":389,"o":34.22,"h":34.25,"l":34.2,"c":34.23},
{"i":390,"o":34.23,"h":34.25,"l":34.05,"c":34.07},{"i":391,"o":34.07,"h":34.25,"l":34.05,"c":34.23},{"i":392,"o":34.23,"h":34.27,"l":34.21,"c":34.25},{"i":393,"o":34.25,"h":34.29,"l":34.23,"c":34.27},{"i":394,"o":34.15,"h":34.33,"l":34.13,"c":34.31},
{"i":395,"o":34.31,"h":34.33,"l":34.26,"c":34.28},{"i":396,"o":34.23,"h":34.25,"l":34.08,"c":34.1},{"i":397,"o":34.1,"h":34.3,"l":34.08,"c":34.28},{"i":398,"o":34.28,"h":34.32,"l":34.26,"c":34.3},{"i":399,"o":34.3,"h":34.33,"l":34.28,"c":34.3},
{"i":400,"o":34.3,"h":34.34,"l":34.28,"c":34.31},{"i":401,"o":34.33,"h":34.35,"l":34.23,"c":34.25},{"i":402,"o":34.31,"h":34.6,"l":34.29,"c":34.48},{"i":403,"o":34.33,"h":34.5,"l":34.31,"c":34.45},{"i":404,"o":34.56,"h":34.62,"l":34.38,"c":34.4},
{"i":405,"o":34.4,"h":34.47,"l":34.38,"c":34.44},{"i":406,"o":34.44,"h":34.48,"l":34.42,"c":34.45},{"i":407,"o":34.48,"h":34.5,"l":34.4,"c":34.42},{"i":408,"o":34.56,"h":34.58,"l":34.24,"c":34.4},{"i":409,"o":34.4,"h":34.58,"l":34.38,"c":34.56},
{"i":410,"o":34.56,"h":34.6,"l":34.54,"c":34.57},{"i":411,"o":34.57,"h":34.6,"l":34.55,"c":34.58},{"i":412,"o":34.56,"h":34.71,"l":34.54,"c":34.69},{"i":413,"o":34.69,"h":34.71,"l":34.63,"c":34.65},{"i":414,"o":34.65,"h":34.71,"l":34.63,"c":34.69},
{"i":415,"o":34.69,"h":34.73,"l":34.67,"c":34.71},{"i":416,"o":34.71,"h":34.74,"l":34.68,"c":34.7},{"i":417,"o":34.71752,"h":34.79836,"l":34.6987,"c":34.7971}
],
"levels": [{"v":37.75},{"v":37.25},{"v":36.8},{"v":35.9},{"v":35.55}],
"price": [{"v":34.7971}],
"axtags": [{"v":37.75,"t":"37.75000"},{"v":37.25,"t":"37.25000"},{"v":36.8,"t":"36.80000"},{"v":35.9,"t":"35.90000"},{"v":35.55,"t":"35.55000"},{"v":34.7971,"t":"34.79710"}],
"tags": [{"v":38.2,"t":"38.20000"},{"v":36.47,"t":"36.47000"},{"v":35.3,"t":"35.30000"},{"v":34.3,"t":"34.30000"},{"v":33.5,"t":"33.50000"},{"v":33.0,"t":"33.00000"}]
},
"layer": [
{"data": {"name": "bands"}, "mark": {"type": "line", "color": "#800080", "strokeWidth": 2.5},
 "encoding": {
  "x": {"field": "i", "type": "quantitative", "scale": {"domain": [-0.5, 465.5], "nice": false, "zero": false},
   "axis": {"orient": "bottom", "values": [0,16,32,48,64,80,96,112,128,144,160,176,192,208,224,240,256,272,288,304,320,336,352,368,384,400,416],
    "labelExpr": "['1 May 2023','23 May 2023','14 Jun 2023','6 Jul 2023','28 Jul 2023','21 Aug 2023','12 Sep 2023','4 Oct 2023','26 Oct 2023','17 Nov 2023','11 Dec 2023','4 Jan 2024','26 Jan 2024','19 Feb 2024','12 Mar 2024','3 Apr 2024','25 Apr 2024','17 May 2024','10 Jun 2024','2 Jul 2024','24 Jul 2024','15 Aug 2024','6 Sep 2024','30 Sep 2024','22 Oct 2024','13 Nov 2024','5 Dec 2024'][round(datum.value/16)]",
    "labelAlign": "left", "labelOffset": 0, "labelBaseline": "top", "tickSize": 4, "labelPadding": 0, "grid": false, "title": null,
    "domainColor": "black", "tickColor": "black", "labelColor": "black", "labelFontSize": 9.5, "labelFont": "Liberation Sans", "labelOverlap": false, "labelFlush": false, "labelBound": false, "zindex": 1}},
  "y": {"field": "p", "type": "quantitative", "scale": {"domain": [15.955, 38.458], "nice": false, "zero": false},
   "axis": {"orient": "right", "values": [38.343,37.5213,36.6993,35.8779,35.0562,34.2096,33.3879,32.5662,31.7445,30.9228,30.1011,29.2794,28.4577,27.6111,26.7894,25.9677,25.146,24.3243,23.5026,22.6809,21.8343,21.0126,20.1909,19.3692,18.5475,17.7258,16.9041,16.0824],
    "labels": false, "title": null, "grid": false, "tickSize": 4, "tickColor": "black", "domainColor": "black", "zindex": 0}}
 }},
{"data": {"name": "bands"}, "mark": {"type": "line", "color": "#BDB76B", "strokeWidth": 2},
 "encoding": {"x": {"field": "i", "type": "quantitative", "axis": {"title": null}}, "y": {"field": "tu", "type": "quantitative", "axis": {"title": null}}}},
{"data": {"name": "bands"}, "mark": {"type": "line", "color": "#BDB76B", "strokeWidth": 2},
 "encoding": {"x": {"field": "i", "type": "quantitative", "axis": {"title": null}}, "y": {"field": "tl", "type": "quantitative", "axis": {"title": null}}}},
{"data": {"name": "bands"}, "mark": {"type": "line", "color": "#008000", "strokeWidth": 2},
 "encoding": {"x": {"field": "i", "type": "quantitative", "axis": {"title": null}}, "y": {"field": "g", "type": "quantitative", "axis": {"title": null}}}},
{"data": {"name": "bands"}, "mark": {"type": "line", "color": "#FF00FF", "strokeWidth": 2.5},
 "encoding": {"x": {"field": "i", "type": "quantitative", "axis": {"title": null}}, "y": {"field": "m", "type": "quantitative", "axis": {"title": null}}}},
{"data": {"name": "bands"}, "mark": {"type": "line", "color": "#0000FF", "strokeWidth": 1},
 "encoding": {"x": {"field": "i", "type": "quantitative", "axis": {"title": null}}, "y": {"field": "bu", "type": "quantitative", "axis": {"title": null}}}},
{"data": {"name": "bands"}, "mark": {"type": "line", "color": "#0000FF", "strokeWidth": 1},
 "encoding": {"x": {"field": "i", "type": "quantitative", "axis": {"title": null}}, "y": {"field": "bl", "type": "quantitative", "axis": {"title": null}}}},
{"data": {"name": "levels"}, "mark": {"type": "rule", "color": "black", "strokeWidth": 1, "strokeDash": [3, 3]},
 "encoding": {"y": {"field": "v", "type": "quantitative", "axis": {"title": null}}}},
{"data": {"name": "price"}, "mark": {"type": "rule", "color": "#C0C0C0", "strokeWidth": 1},
 "encoding": {"y": {"field": "v", "type": "quantitative", "axis": {"title": null}}}},
{"data": {"name": "candles"}, "mark": {"type": "rule", "color": "black", "strokeWidth": 1, "xOffset": 0.5},
 "encoding": {"x": {"field": "i", "type": "quantitative", "axis": {"title": null}}, "y": {"field": "l", "type": "quantitative", "axis": {"title": null}}, "y2": {"field": "h"}}},
{"data": {"name": "candles"}, "mark": {"type": "bar", "size": 2, "stroke": "black", "strokeWidth": 1, "orient": "vertical", "xOffset": 0.5},
 "encoding": {"x": {"field": "i", "type": "quantitative", "axis": {"title": null}}, "y": {"field": "o", "type": "quantitative", "axis": {"title": null}}, "y2": {"field": "c"},
  "fill": {"condition": {"test": "datum.c >= datum.o", "value": "white"}, "value": "black"}}},
{"data": {"name": "one"}, "mark": {"type": "rect", "fill": "#90EE90"},
 "encoding": {"x": {"datum": 198, "type": "quantitative", "axis": {"title": null}}, "x2": {"datum": 264.75}, "y": {"datum": 27.02, "type": "quantitative", "axis": {"title": null}}, "y2": {"datum": 25.02}}},
{"data": {"name": "one"}, "mark": {"type": "text", "align": "left", "baseline": "middle", "fontSize": 14.5, "lineHeight": 15.25, "color": "black", "font": "Liberation Sans"},
 "encoding": {"x": {"datum": 198.25, "type": "quantitative", "axis": {"title": null}}, "y": {"datum": 26.76, "type": "quantitative", "axis": {"title": null}},
  "text": {"value": ["2020 yılına 5,9428 seviyesinde başladık", "2021 yılına 7,4190 seviyesinde başladık", "2022 yılına 13,4553 seviyesinde başladık", "2023 yılına 18,6725 seviyesinde başladık", "2024 yılına 29,4425 seviyesinde başladık"]}}},
{"data": {"name": "one"}, "mark": {"type": "text", "align": "left", "baseline": "middle", "fontSize": 14.5, "color": "#FF00FF", "font": "Liberation Sans"},
 "encoding": {"x": {"datum": 68.25, "type": "quantitative", "axis": {"title": null}}, "y": {"datum": 21.40, "type": "quantitative", "axis": {"title": null}}, "text": {"value": "55 günlük üssel hareketli ortalama"}}},
{"data": {"name": "one"}, "mark": {"type": "text", "align": "left", "baseline": "middle", "fontSize": 14.5, "color": "#FF00FF", "font": "Liberation Sans"},
 "encoding": {"x": {"datum": 125.5, "type": "quantitative", "axis": {"title": null}}, "y": {"datum": 21.40, "type": "quantitative", "axis": {"title": null}}, "text": {"value": "30 Aralık 2021'den beri ortalama yükseliş trendini destekliyor"}}},
{"data": {"name": "one"}, "mark": {"type": "text", "align": "left", "baseline": "middle", "fontSize": 14.5, "color": "#800080", "font": "Liberation Sans"},
 "encoding": {"x": {"datum": 68.25, "type": "quantitative", "axis": {"title": null}}, "y": {"datum": 20.725, "type": "quantitative", "axis": {"title": null}}, "text": {"value": "144 günlük üssel hareketli ortalama"}}},
{"data": {"name": "one"}, "mark": {"type": "text", "align": "left", "baseline": "middle", "fontSize": 14.5, "color": "#800080", "font": "Liberation Sans"},
 "encoding": {"x": {"datum": 127.25, "type": "quantitative", "axis": {"title": null}}, "y": {"datum": 20.725, "type": "quantitative", "axis": {"title": null}}, "text": {"value": "23 Mart 2021'den beri ortalama yükseliş trendini destekliyor"}}},
{"data": {"name": "one"}, "mark": {"type": "text", "align": "left", "baseline": "middle", "fontSize": 10, "color": "black", "font": "Liberation Sans"},
 "encoding": {"x": {"datum": 1.0, "type": "quantitative", "axis": {"title": null}}, "y": {"datum": 38.24, "type": "quantitative", "axis": {"title": null}}, "text": {"value": "▼ USDTRY,Daily  34.71752 34.79836 34.69870 34.79710"}}},
{"data": {"name": "one"}, "mark": {"type": "point", "shape": "triangle-down", "filled": true, "color": "#A0A0A0", "size": 50, "opacity": 1},
 "encoding": {"x": {"datum": 418.5, "type": "quantitative", "axis": {"title": null}}, "y": {"datum": 38.37, "type": "quantitative", "axis": {"title": null}}}},
{"data": {"name": "yticks"}, "mark": {"type": "text", "align": "left", "baseline": "middle", "fontSize": 9.5, "color": "black", "font": "Liberation Sans"},
 "encoding": {"x": {"datum": 467.0, "type": "quantitative", "axis": {"title": null}}, "y": {"field": "v", "type": "quantitative", "axis": {"title": null}}, "text": {"field": "v", "type": "quantitative", "format": ".5f"}}},
{"data": {"name": "axtags"}, "mark": {"type": "rule", "color": "black", "strokeWidth": 13, "strokeCap": "butt"},
 "encoding": {"x": {"datum": 466.5, "type": "quantitative", "axis": {"title": null}}, "x2": {"datum": 478.0}, "y": {"field": "v", "type": "quantitative", "axis": {"title": null}}}},
{"data": {"name": "axtags"}, "mark": {"type": "text", "align": "left", "baseline": "middle", "fontSize": 9.5, "color": "white", "font": "Liberation Sans"},
 "encoding": {"x": {"datum": 467.0, "type": "quantitative", "axis": {"title": null}}, "y": {"field": "v", "type": "quantitative", "axis": {"title": null}}, "text": {"field": "t"}}},
{"data": {"name": "tags"}, "mark": {"type": "rule", "color": "black", "strokeWidth": 1},
 "encoding": {"x": {"datum": 417, "type": "quantitative", "axis": {"title": null}}, "x2": {"datum": 419.75}, "y": {"field": "v", "type": "quantitative", "axis": {"title": null}}}},
{"data": {"name": "tags"}, "mark": {"type": "rule", "color": "black", "strokeWidth": 19, "strokeCap": "butt"},
 "encoding": {"x": {"datum": 419.75, "type": "quantitative", "axis": {"title": null}}, "x2": {"datum": 437.0}, "y": {"field": "v", "type": "quantitative", "axis": {"title": null}}}},
{"data": {"name": "tags"}, "mark": {"type": "rule", "color": "white", "strokeWidth": 17, "strokeCap": "butt"},
 "encoding": {"x": {"datum": 420.0, "type": "quantitative", "axis": {"title": null}}, "x2": {"datum": 436.75}, "y": {"field": "v", "type": "quantitative", "axis": {"title": null}}}},
{"data": {"name": "tags"}, "mark": {"type": "text", "align": "center", "baseline": "middle", "fontSize": 19, "color": "black", "font": "Liberation Sans Narrow, DejaVu Sans Condensed, sans-serif", "dy": 1},
 "encoding": {"x": {"datum": 428.4, "type": "quantitative", "axis": {"title": null}}, "y": {"field": "v", "type": "quantitative", "axis": {"title": null}}, "text": {"field": "t"}}}
]
}
